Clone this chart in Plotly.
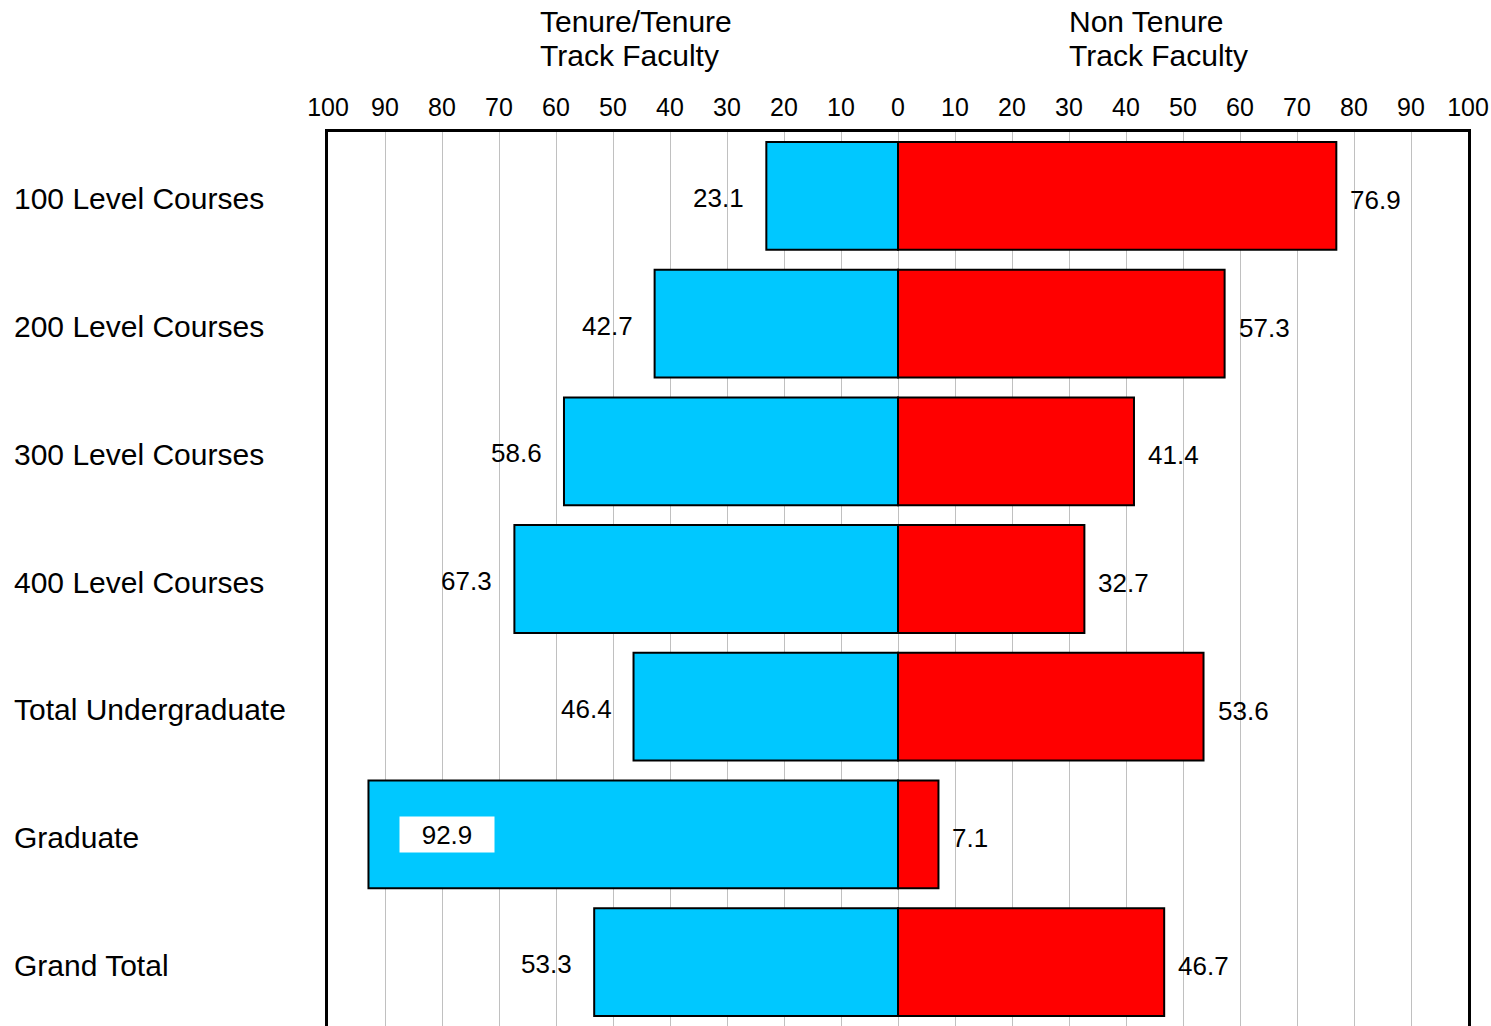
import plotly.graph_objects as go

categories = ["100 Level Courses", "200 Level Courses", "300 Level Courses",
              "400 Level Courses", "Total Undergraduate", "Graduate", "Grand Total"]
tenure = [23.1, 42.7, 58.6, 67.3, 46.4, 92.9, 53.3]
non_tenure = [76.9, 57.3, 41.4, 32.7, 53.6, 7.1, 46.7]
tick_vals = list(range(-100, 101, 10))
tick_text = [str(abs(v)) for v in tick_vals]

FONT = "Liberation Sans, Arial, sans-serif"
BLUE = "#00C8FF"
RED = "#FF0000"

fig = go.Figure()
fig.add_trace(go.Bar(
    y=categories, x=[-v for v in tenure], orientation="h",
    marker=dict(color=BLUE, line=dict(color="black", width=2)),
    name="Tenure/Tenure Track Faculty", hoverinfo="skip"))
fig.add_trace(go.Bar(
    y=categories, x=non_tenure, orientation="h",
    marker=dict(color=RED, line=dict(color="black", width=2)),
    name="Non Tenure Track Faculty", hoverinfo="skip"))

annotations = []
for cat, t, n in zip(categories, tenure, non_tenure):
    if t > 90:
        annotations.append(dict(
            x=-t, y=cat, xref="x", yref="y", text=f"{t:.1f}", showarrow=False,
            xanchor="left", xshift=31, width=92, height=33, bgcolor="white",
            align="center", font=dict(size=26, color="black", family=FONT)))
    else:
        annotations.append(dict(
            x=-t, y=cat, xref="x", yref="y", text=f"{t:.1f}", showarrow=False,
            xanchor="right", xshift=-20, yshift=-2,
            font=dict(size=26, color="black", family=FONT)))
    annotations.append(dict(
        x=n, y=cat, xref="x", yref="y", text=f"{n:.1f}", showarrow=False,
        xanchor="left", xshift=12, yshift=-4,
        font=dict(size=26, color="black", family=FONT)))
    annotations.append(dict(
        x=-0.2772, y=cat, xref="paper", yref="y", text=cat, showarrow=False,
        xanchor="left", yshift=-3, font=dict(size=30, color="black", family=FONT)))

title_lines = [("Tenure/Tenure", 0.184, 0), ("Track Faculty", 0.184, 1),
               ("Non Tenure", 0.648, 0), ("Track Faculty", 0.648, 1)]
for txt, xp, line in title_lines:
    annotations.append(dict(
        x=xp, y=1.0, xref="paper", yref="paper", text=txt,
        showarrow=False, xanchor="left", yanchor="middle", align="left",
        yshift=(132 - 21) - 34 * line,
        font=dict(size=30, color="black", family=FONT)))

fig.update_layout(
    width=1491, height=1026,
    margin=dict(l=328, r=23, t=132, b=0),
    paper_bgcolor="white", plot_bgcolor="white",
    barmode="relative", bargap=0.156,
    showlegend=False,
    font=dict(family=FONT, color="black"),
    annotations=annotations,
    xaxis=dict(
        range=[-100, 100], side="top", tickvals=tick_vals, ticktext=tick_text,
        tickfont=dict(size=25, color="black", family=FONT),
        showgrid=True, gridcolor="#C0C0C0", gridwidth=1,
        zeroline=False, showline=True, linecolor="black", linewidth=3,
        ticks="", ticklabelstandoff=3, fixedrange=True),
    yaxis=dict(
        categoryorder="array", categoryarray=categories,
        range=[6.5, -0.5], showticklabels=False, showgrid=False, zeroline=False,
        showline=True, mirror=True, linecolor="black", linewidth=3, ticks="",
        fixedrange=True),
)

fig.write_html(
    "out.html",
    config={"displayModeBar": False},
    post_script="document.body.style.margin='0';document.body.style.overflow='hidden';",
)
